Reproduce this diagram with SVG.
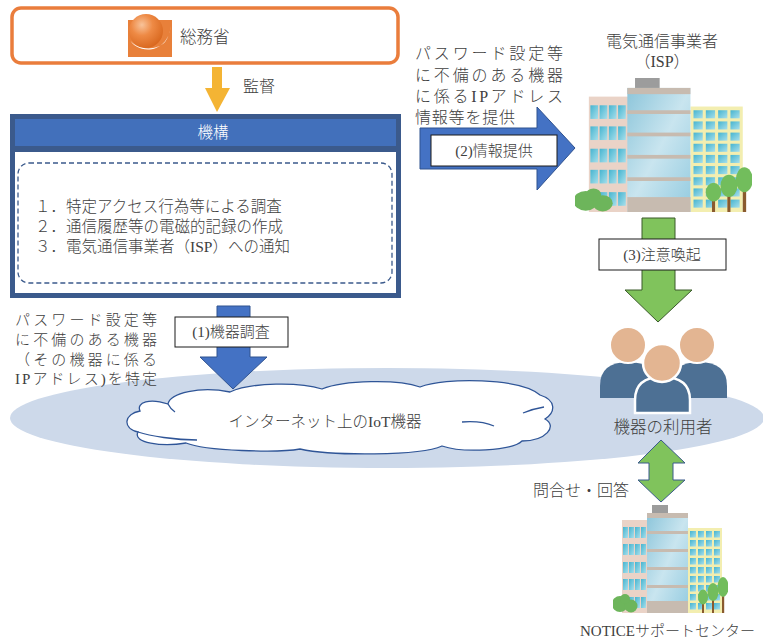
<svg xmlns="http://www.w3.org/2000/svg" width="763" height="642" viewBox="0 0 763 642">
  <style>
    text { font-family: "Liberation Serif", "Noto Sans CJK JP", serif; fill: #404040; font-weight: 300; }
    .t15 { font-size: 15px; }
    .t16 { font-size: 16px; }
    .mid { text-anchor: middle; }
    .lbl { fill: #ffffff; stroke: #1a1a1a; stroke-width: 1; }
    .blueArrow { fill: #4472c4; stroke: #2f528f; stroke-width: 1; }
    .greenArrow { fill: #80c35c; stroke: #3a5a2a; stroke-width: 1; }
  </style>
  <defs>
    <linearGradient id="glass" x1="0" y1="0" x2="1" y2="1">
      <stop offset="0" stop-color="#8cc5da"/>
      <stop offset="0.5" stop-color="#c9e5ef"/>
      <stop offset="1" stop-color="#94cbe0"/>
    </linearGradient>
    <linearGradient id="win" x1="0" y1="0" x2="1" y2="1">
      <stop offset="0" stop-color="#45b4d0"/>
      <stop offset="1" stop-color="#a8dfeb"/>
    </linearGradient>
    <radialGradient id="ball" cx="0.38" cy="0.32" r="0.7">
      <stop offset="0" stop-color="#f8c39a"/>
      <stop offset="0.45" stop-color="#ee8a45"/>
      <stop offset="1" stop-color="#d9681f"/>
    </radialGradient>
    <!-- office block with trees, drawn in a 115 x 108 box -->
    <symbol id="bldg" viewBox="0 0 115 108" preserveAspectRatio="none">
      <rect x="9" y="15" width="26" height="93" fill="#ead3c7"/>
      <g fill="url(#win)">
        <rect x="10" y="22" width="5" height="11"/><rect x="16" y="22" width="5" height="11"/><rect x="22" y="22" width="5" height="11"/><rect x="28" y="22" width="5" height="11"/>
        <rect x="10" y="39" width="5" height="11"/><rect x="16" y="39" width="5" height="11"/><rect x="22" y="39" width="5" height="11"/><rect x="28" y="39" width="5" height="11"/>
        <rect x="10" y="57" width="5" height="11"/><rect x="16" y="57" width="5" height="11"/><rect x="22" y="57" width="5" height="11"/><rect x="28" y="57" width="5" height="11"/>
        <rect x="10" y="74" width="5" height="11"/><rect x="16" y="74" width="5" height="11"/><rect x="22" y="74" width="5" height="11"/><rect x="28" y="74" width="5" height="11"/>
        <rect x="10" y="92" width="5" height="11"/><rect x="16" y="92" width="5" height="11"/><rect x="22" y="92" width="5" height="11"/><rect x="28" y="92" width="5" height="11"/>
      </g>
      <rect x="75" y="23" width="34" height="85" fill="#f3eeb0"/>
      <g fill="url(#win)">
        <rect x="77" y="26" width="6" height="6.5"/><rect x="85" y="26" width="6" height="6.5"/><rect x="93" y="26" width="6" height="6.5"/><rect x="101" y="26" width="6" height="6.5"/>
        <rect x="77" y="35" width="6" height="6.5"/><rect x="85" y="35" width="6" height="6.5"/><rect x="93" y="35" width="6" height="6.5"/><rect x="101" y="35" width="6" height="6.5"/>
        <rect x="77" y="44" width="6" height="6.5"/><rect x="85" y="44" width="6" height="6.5"/><rect x="93" y="44" width="6" height="6.5"/><rect x="101" y="44" width="6" height="6.5"/>
        <rect x="77" y="53" width="6" height="6.5"/><rect x="85" y="53" width="6" height="6.5"/><rect x="93" y="53" width="6" height="6.5"/><rect x="101" y="53" width="6" height="6.5"/>
        <rect x="77" y="62" width="6" height="6.5"/><rect x="85" y="62" width="6" height="6.5"/><rect x="93" y="62" width="6" height="6.5"/><rect x="101" y="62" width="6" height="6.5"/>
        <rect x="77" y="71" width="6" height="6.5"/><rect x="85" y="71" width="6" height="6.5"/><rect x="93" y="71" width="6" height="6.5"/><rect x="101" y="71" width="6" height="6.5"/>
        <rect x="77" y="80" width="6" height="6.5"/><rect x="85" y="80" width="6" height="6.5"/><rect x="93" y="80" width="6" height="6.5"/><rect x="101" y="80" width="6" height="6.5"/>
        <rect x="77" y="89" width="6" height="6.5"/><rect x="85" y="89" width="6" height="6.5"/><rect x="93" y="89" width="6" height="6.5"/><rect x="101" y="89" width="6" height="6.5"/>
        <rect x="77" y="98" width="6" height="6.5"/><rect x="85" y="98" width="6" height="6.5"/><rect x="93" y="98" width="6" height="6.5"/><rect x="101" y="98" width="6" height="6.5"/>
      </g>
      <rect x="39" y="0" width="16" height="9" fill="#9c9c9c"/>
      <rect x="34" y="8" width="41" height="100" fill="url(#glass)"/>
      <g fill="#c7bbb0">
        <rect x="34" y="8" width="41" height="5"/>
        <rect x="34" y="26" width="41" height="3"/>
        <rect x="34" y="44" width="41" height="3"/>
        <rect x="34" y="62" width="41" height="3"/>
        <rect x="34" y="80" width="41" height="3"/>
        <rect x="34" y="96" width="41" height="12"/>
      </g>
      <g fill="#6db55b">
        <circle cx="7" cy="99" r="8"/>
        <circle cx="18" cy="101" r="6.5"/>
        <circle cx="12" cy="94" r="5"/>
      </g>
      <g fill="#8a5a2e">
        <rect x="89" y="94" width="2" height="14"/>
        <rect x="99" y="90" width="2" height="18"/>
        <rect x="109" y="86" width="2.2" height="22"/>
      </g>
      <g fill="#72bd5c">
        <ellipse cx="90" cy="92" rx="5" ry="7.5"/>
        <ellipse cx="100" cy="87" rx="5.5" ry="9"/>
        <ellipse cx="110" cy="82" rx="5.5" ry="10"/>
      </g>
    </symbol>
  </defs>

  <rect width="763" height="642" fill="#ffffff"/>

  <!-- background oval for devices on the internet -->
  <ellipse cx="387" cy="418" rx="377" ry="50" fill="#cdd9ea"/>

  <!-- ministry -->
  <g id="mic">
    <rect x="12" y="8" width="386" height="55" rx="9" fill="#ffffff" stroke="#ea7d3c" stroke-width="3.5"/>
    <rect x="128" y="20" width="44" height="37" fill="#e8803a"/>
    <circle cx="146" cy="31" r="17" fill="url(#ball)"/>
    <path d="M129,38 C134,50 156,52 165,42 C168,38 170,32 171,26 C170,34 166,44 156,48 C146,52 133,48 129,38 Z" fill="#ffffff"/>
    <text class="t16" x="180" y="43" style="font-size:16.5px">総務省</text>
  </g>

  <!-- organisation box -->
  <g id="kiko">
    <rect x="10" y="114" width="391" height="184" fill="#3b5a8c"/>
    <rect x="15" y="119" width="381" height="27" fill="#4270bb"/>
    <rect x="15" y="152" width="381" height="141" fill="#ffffff"/>
    <text class="mid" x="213" y="138" style="font-size:15.5px;fill:#ffffff">機構</text>
    <rect x="18" y="163" width="374" height="120" rx="11" fill="none" stroke="#3b5a8c" stroke-width="1.3" stroke-dasharray="5 3"/>
    <text x="35" y="212" style="font-size:15.5px">１．特定アクセス行為等による調査</text>
    <text x="35" y="232" style="font-size:15.5px">２．通信履歴等の電磁的記録の作成</text>
    <text x="35" y="252" style="font-size:15.5px">３．電気通信事業者（ISP）への通知</text>
  </g>

  <!-- devices on the internet -->
  <g id="iot">
    <path d="M138,432 C122,428 124,414 140,411 C136,402 150,398 168,404 C170,393 200,386 230,392 C252,382 300,382 322,389 C344,380 398,379 420,387 C445,377 520,378 540,395 C556,400 556,412 545,419 C558,426 546,441 522,441 C512,451 462,453 442,446 C420,456 332,456 300,449 C278,453 205,451 186,443 C162,447 132,443 138,432 Z" fill="#ffffff" stroke="#2f5597" stroke-width="1.3"/>
    <path d="M138,432 C150,436 175,440 197,440" fill="none" stroke="#2f5597" stroke-width="1.3"/>
    <path d="M168,404 C170,408 172,410 175,412" fill="none" stroke="#2f5597" stroke-width="1.3"/>
    <path d="M462,422 C475,421 487,423 494,426" fill="none" stroke="#2f5597" stroke-width="1.3"/>
    <path d="M523,413 C530,410 538,408 544,407" fill="none" stroke="#2f5597" stroke-width="1.3"/>
    <text class="mid" x="325" y="427" style="font-size:15.5px">インターネット上のIoT機器</text>
  </g>

  <!-- ISP -->
  <g id="isp">
    <text class="t16 mid" x="662" y="47">電気通信事業者</text>
    <text class="t16 mid" x="662" y="67">（ISP）</text>
    <use href="#bldg" x="575" y="78" width="177" height="134"/>
  </g>

  <!-- device users -->
  <g id="users">
    <path d="M600,398 L600,386 Q600,362 628,362 Q656,362 656,386 L656,398 Z" fill="#4d7094"/>
    <path d="M671,398 L671,386 Q671,362 699,362 Q727,362 727,386 L727,398 Z" fill="#4d7094"/>
    <circle cx="628" cy="345" r="18" fill="#e3b592" stroke="#ffffff" stroke-width="2"/>
    <circle cx="697" cy="345" r="18" fill="#e3b592" stroke="#ffffff" stroke-width="2"/>
    <path d="M635,413 L635,400 Q635,377 662,377 Q690,377 690,400 L690,413 Z" fill="#4d7094" stroke="#ffffff" stroke-width="2.5"/>
    <circle cx="662" cy="363" r="19" fill="#e3b592" stroke="#ffffff" stroke-width="2.5"/>
    <text class="mid" x="663" y="433" style="font-size:16.5px">機器の利用者</text>
  </g>

  <!-- support centre -->
  <g id="notice">
    <use href="#bldg" x="613" y="505" width="115" height="108"/>
    <text x="580" y="636" class="t15">NOTICEサポートセンター</text>
  </g>

  <!-- connectors -->
  <g id="connectors">
    <!-- supervision -->
    <polygon points="212,67 222,67 222,88 230,88 217,112 205,88 212,88" fill="#f4b434"/>
    <text class="t16" x="243" y="92">監督</text>

    <!-- (1) device survey -->
    <polygon class="blueArrow" points="217,306 250,306 250,357 267,357 233,389 200,357 217,357"/>
    <rect class="lbl" x="175" y="317" width="113" height="30"/>
    <text class="t15 mid" x="231" y="337">(1)機器調査</text>
    <text class="t15" x="15" y="325" textLength="142" lengthAdjust="spacing">パスワード設定等</text>
    <text class="t15" x="15" y="345" textLength="142" lengthAdjust="spacing">に不備のある機器</text>
    <text class="t15" x="15" y="365" textLength="142" lengthAdjust="spacing">（その機器に係る</text>
    <text class="t15" x="15" y="384" textLength="142" lengthAdjust="spacing">IPアドレス)を特定</text>

    <!-- (2) information provision -->
    <polygon class="blueArrow" points="420,128 537,128 537,107 575,148 537,190 537,169 420,169"/>
    <rect class="lbl" x="431" y="135" width="126" height="31"/>
    <text class="t15 mid" x="494" y="156">(2)情報提供</text>
    <text class="t16" x="415" y="59" textLength="148" lengthAdjust="spacing">パスワード設定等</text>
    <text class="t16" x="415" y="81" textLength="148" lengthAdjust="spacing">に不備のある機器</text>
    <text class="t16" x="415" y="102" textLength="148" lengthAdjust="spacing">に係るIPアドレス</text>
    <text class="t16" x="415" y="123" textLength="100" lengthAdjust="spacing">情報等を提供</text>

    <!-- (3) alert -->
    <polygon class="greenArrow" points="642,218 675,218 675,290 692,290 658,322 625,290 642,290"/>
    <rect class="lbl" x="599" y="239" width="127" height="31"/>
    <text class="t15 mid" x="662" y="260">(3)注意喚起</text>

    <!-- enquiries and replies -->
    <polygon points="661,440 685,463 673,463 673,480 685,480 661,502 638,480 649,480 649,463 638,463" fill="#80c35c" stroke="#3b5a8c" stroke-width="1"/>
    <text class="t16" x="533" y="496">問合せ・回答</text>
  </g>
</svg>
